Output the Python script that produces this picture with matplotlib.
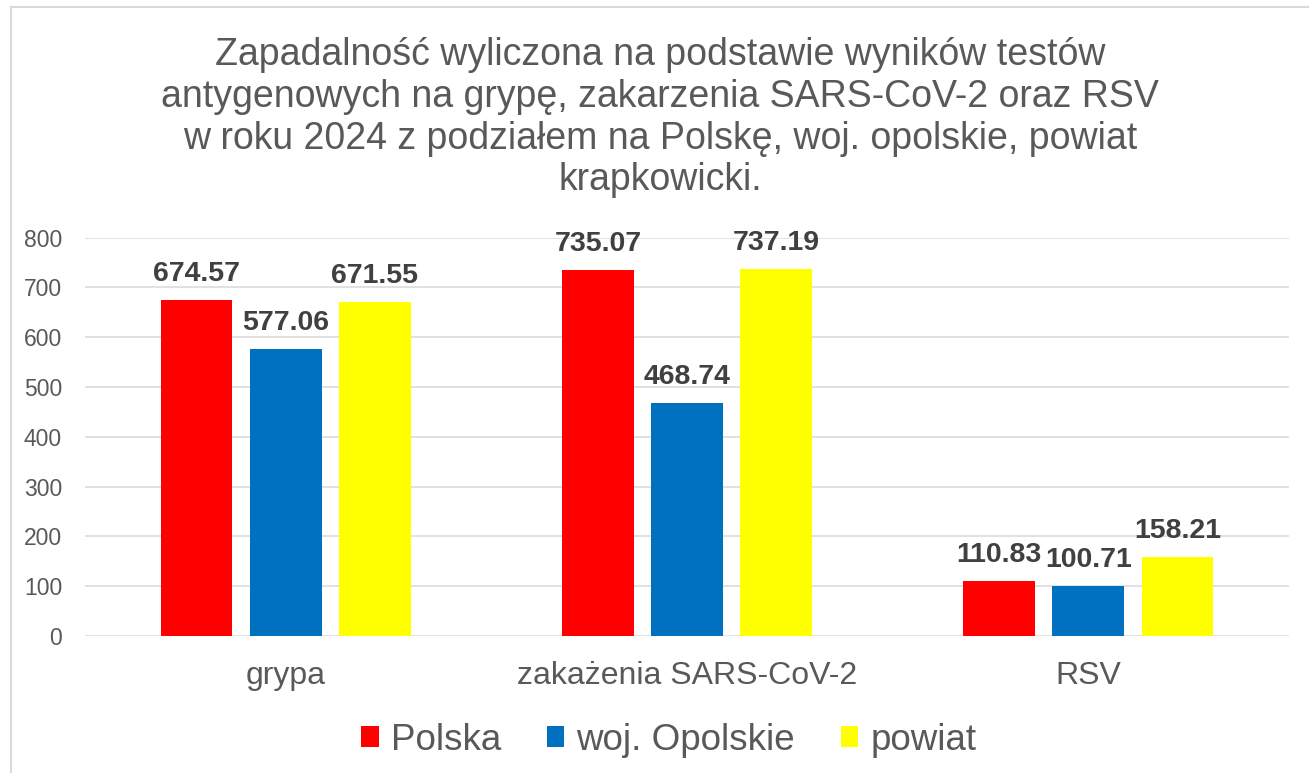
import matplotlib
matplotlib.use("Agg")
import matplotlib.pyplot as plt
from matplotlib.patches import Patch
from matplotlib.lines import Line2D
import numpy as np

plt.rcParams['font.family'] = ['Liberation Sans', 'DejaVu Sans']

categories = ["grypa", "zakażenia SARS-CoV-2", "RSV"]
series_names = ["Polska", "woj. Opolskie", "powiat"]
polska = [674.57, 735.07, 110.83]
opolskie = [577.06, 468.74, 100.71]
powiat = [671.55, 737.19, 158.21]
colors = ["#FF0000", "#0070C0", "#FFFF00"]
title_lines = [
    "Zapadalność wyliczona na podstawie wyników testów",
    "antygenowych na grypę, zakarzenia SARS-CoV-2 oraz RSV",
    "w roku 2024 z podziałem na Polskę, woj. opolskie, powiat",
    "krapkowicki.",
]
yticks = [0, 100, 200, 300, 400, 500, 600, 700, 800]

W, H = 1309, 773
fig = plt.figure(figsize=(W / 100, H / 100), dpi=100)
fig.patch.set_facecolor("white")

ax = fig.add_axes([85 / W, 1 - 636 / H, (1289 - 85) / W, (636 - 237.7) / H])

x = np.arange(len(categories))
width = 0.179
offsets = [-0.222, 0.0, 0.222]
data = [polska, opolskie, powiat]
for vals, off, col in zip(data, offsets, colors):
    bars = ax.bar(x + off, vals, width=width, color=col, zorder=3)
    for b, v in zip(bars, vals):
        ax.annotate(f"{v:.2f}", (b.get_x() + b.get_width() / 2, v),
                    xytext=(0, 13.7), textcoords="offset points",
                    ha="center", va="baseline", fontsize=20.5,
                    fontweight="bold", color="#404040", zorder=4)

ax.set_xlim(-0.5, 2.5)
ax.set_ylim(0, 800)
ax.set_yticks(yticks)
ax.set_xticks(x)
ax.set_xticklabels(categories)
ax.tick_params(axis="y", length=0, pad=16.5, labelsize=16.5, labelcolor="#595959")
ax.tick_params(axis="x", length=0, pad=18, labelsize=23, labelcolor="#595959")
ax.grid(axis="y", color="#d9d9d9", linewidth=1.1, zorder=0)
for s in ax.spines.values():
    s.set_visible(False)

# title lines
baselines = [65, 107, 149, 190]
for line, yb in zip(title_lines, baselines):
    fig.text(660 / W, 1 - yb / H, line, ha="center", va="baseline",
             fontsize=27, color="#595959")

# legend
handles = [Patch(facecolor=c, edgecolor="none") for c in colors]
fig.legend(handles, series_names, loc="center", bbox_to_anchor=(669 / W, 1 - 740 / H),
           ncol=3, frameon=False, fontsize=26.5, labelcolor="#595959",
           handlelength=0.47, handleheight=0.47, handletextpad=0.33,
           columnspacing=1.25, borderpad=0, borderaxespad=0)

# chart border (partially cut)
fig.add_artist(Line2D([11 / W, 11 / W], [0, 1 - 7 / H], color="#d9d9d9", linewidth=1.5,
                      transform=fig.transFigure))
fig.add_artist(Line2D([11 / W, 1], [1 - 7 / H, 1 - 7 / H], color="#d9d9d9", linewidth=1.5,
                      transform=fig.transFigure))

fig.savefig("out.png", dpi=100, facecolor="white")
